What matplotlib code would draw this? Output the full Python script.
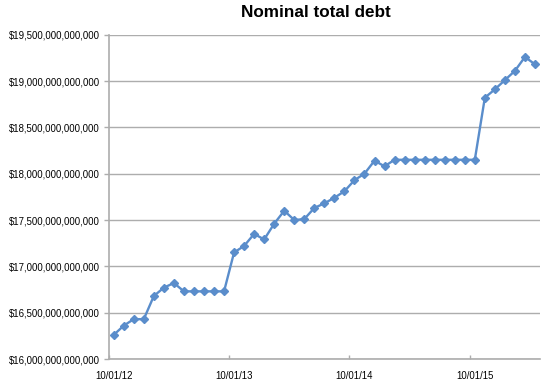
import matplotlib
matplotlib.use("Agg")
import matplotlib.pyplot as plt
import numpy as np
from matplotlib.ticker import FuncFormatter

plt.rcParams['font.family'] = ['Liberation Sans', 'DejaVu Sans']

months = ["2012-10", "2012-11", "2012-12", "2013-01", "2013-02", "2013-03", "2013-04",
          "2013-05", "2013-06", "2013-07", "2013-08", "2013-09", "2013-10", "2013-11",
          "2013-12", "2014-01", "2014-02", "2014-03", "2014-04", "2014-05", "2014-06",
          "2014-07", "2014-08", "2014-09", "2014-10", "2014-11", "2014-12", "2015-01",
          "2015-02", "2015-03", "2015-04", "2015-05", "2015-06", "2015-07", "2015-08",
          "2015-09", "2015-10", "2015-11", "2015-12", "2016-01", "2016-02", "2016-03",
          "2016-04"]
# Debt in trillions of dollars
debt_trillions = [16.26, 16.36, 16.43, 16.43, 16.68, 16.77, 16.82, 16.73, 16.73, 16.73,
                  16.73, 16.73, 17.15, 17.22, 17.35, 17.29, 17.46, 17.60, 17.50, 17.51,
                  17.63, 17.68, 17.74, 17.81, 17.93, 18.00, 18.14, 18.08, 18.15, 18.15,
                  18.15, 18.15, 18.15, 18.15, 18.15, 18.15, 18.15, 18.82, 18.91, 19.01,
                  19.11, 19.26, 19.18]
xtick_labels = ["10/01/12", "10/01/13", "10/01/14", "10/01/15"]
xtick_months = ["2012-10", "2013-10", "2014-10", "2015-10"]

values = np.array(debt_trillions) * 1e12
idx = np.arange(len(months))

W, H = 548, 384
fig = plt.figure(figsize=(W / 100, H / 100), dpi=100)
ax = fig.add_axes([108.7 / W, 25 / H, (540 - 108.7) / W, (359 - 34.7) / H])

line_color = '#5A8DCB'
grid_color = '#ADADAD'

ax.plot(idx + 0.5, values, color=line_color, lw=1.7, marker='D', ms=3.7,
        markerfacecolor=line_color, markeredgecolor=line_color, zorder=3)

ax.set_xlim(0, len(months))
ax.set_ylim(16e12, 19.5e12)
ax.set_yticks(np.arange(16e12, 19.5e12 + 1, 0.5e12))
ax.yaxis.set_major_formatter(FuncFormatter(lambda v, p: "${:,.0f}".format(v)))
ax.grid(axis='y', color=grid_color, lw=1.0)
ax.set_axisbelow(True)

tick_pos = [months.index(m) for m in xtick_months]
ax.set_xticks([p + 0.5 for p in tick_pos])
ax.set_xticklabels(xtick_labels)
ax.set_xticks(tick_pos, minor=True)
ax.tick_params(axis='x', which='major', length=0, pad=8.5, labelsize=6.9, colors='black')
ax.tick_params(axis='x', which='minor', length=3, direction='in', color=grid_color, width=1)
ax.tick_params(axis='y', length=3.5, color=grid_color, width=1, labelsize=6.9, pad=3)

for s in ['top', 'right']:
    ax.spines[s].set_visible(False)
for s in ['left', 'bottom']:
    ax.spines[s].set_color(grid_color)
    ax.spines[s].set_linewidth(1.2)

fig.text(316 / W, 1 - 12.5 / H, "Nominal total debt", ha='center', va='center',
         fontsize=12.3, fontweight='bold')

fig.savefig("out.png", dpi=100)
